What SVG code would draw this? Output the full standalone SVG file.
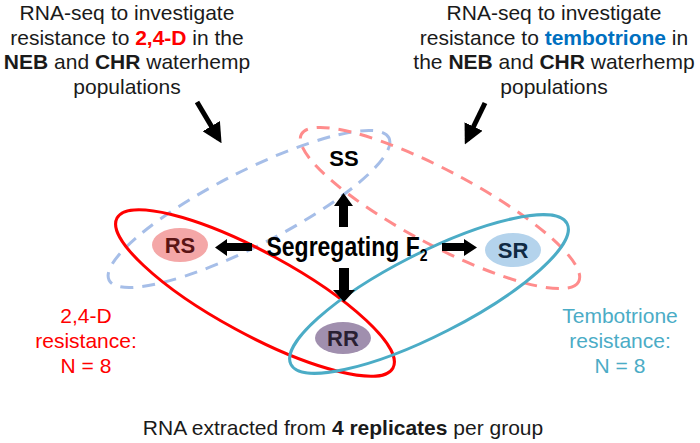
<svg xmlns="http://www.w3.org/2000/svg" width="700" height="443" viewBox="0 0 700 443">
<style>
text{font-family:"Liberation Sans",Arial,sans-serif;}
.t{font-size:21px;fill:#1a1a1a;text-anchor:middle;}
.b{font-weight:bold;}
.n{font-size:22px;font-weight:bold;text-anchor:middle;}
.dash{fill:none;stroke-width:3;stroke-dasharray:13 9;}
.solid{fill:none;stroke-width:3;}
</style>
<defs>
<marker id="ah" markerWidth="4" markerHeight="4" refX="3" refY="2" orient="auto" markerUnits="strokeWidth">
<path d="M0,0 L4,2 L0,4 Z" fill="#000"/>
</marker>
</defs>

<g id="groups">
<ellipse class="dash" cx="249" cy="209" rx="157" ry="37" stroke="#A6BEE8" transform="rotate(-27 249 209)"/>
<ellipse class="dash" cx="440" cy="208" rx="157" ry="37" stroke="#FF8C8C" transform="rotate(28 440 208)"/>
<ellipse class="solid" cx="255" cy="293" rx="157" ry="41" stroke="#FF0000" transform="rotate(28.5 255 293)"/>
<ellipse class="solid" cx="429" cy="294" rx="155" ry="41" stroke="#4BACC6" transform="rotate(-27 429 294)"/>
</g>

<g id="text-left">
<text class="t" x="127" y="20">RNA-seq to investigate</text>
<text class="t" x="127" y="44.5">resistance to <tspan class="b" fill="#FF0000">2,4-D</tspan> in the</text>
<text class="t" x="127" y="69"><tspan class="b">NEB</tspan> and <tspan class="b">CHR</tspan> waterhemp</text>
<text class="t" x="127" y="93.5">populations</text>
</g>

<g id="text-right">
<text class="t" x="554" y="20">RNA-seq to investigate</text>
<text class="t" x="554" y="44.5">resistance to <tspan class="b" fill="#0070C0">tembotrione</tspan> in</text>
<text class="t" x="554" y="69">the <tspan class="b">NEB</tspan> and <tspan class="b">CHR</tspan> waterhemp</text>
<text class="t" x="554" y="93.5">populations</text>
</g>

<g id="connectors">
<line x1="197" y1="102" x2="219" y2="139" stroke="#000" stroke-width="5" marker-end="url(#ah)"/>
<line x1="485" y1="103" x2="467" y2="140" stroke="#000" stroke-width="5" marker-end="url(#ah)"/>
<polygon points="252,243 227,243 227,239 215,247.5 227,256 227,251 252,251" fill="#000"/>
<polygon points="442,243 464,243 464,239 477,247.5 464,256 464,251 442,251" fill="#000"/>
<polygon points="339,227 339,206 334,206 343.5,193 353,206 348,206 348,227" fill="#000"/>
<polygon points="339,268 339,290 333,290 344,302 355,290 349,290 349,268" fill="#000"/>
</g>

<g id="node-SS">
<text class="n" x="344" y="166" fill="#000">SS</text>
</g>
<g id="node-RS">
<ellipse cx="180" cy="245" rx="28" ry="17" fill="#F4A7A7"/>
<text class="n" x="180" y="253" fill="#5A1414">RS</text>
</g>
<g id="node-SR">
<ellipse cx="513" cy="250" rx="28" ry="17" fill="#B4D3EC"/>
<text class="n" x="513" y="258" fill="#0F2A44">SR</text>
</g>
<g id="node-RR">
<ellipse cx="343" cy="338" rx="28" ry="16" fill="#A08FAE"/>
<text class="n" x="343" y="346" fill="#2A1F33">RR</text>
</g>
<g id="node-F2">
<text transform="translate(347 256) scale(1 1.18)" font-size="23" font-weight="bold" text-anchor="middle" fill="#000">Segregating F<tspan font-size="14" dy="4">2</tspan></text>
</g>

<g id="label-24D">
<text class="t" x="86" y="323" style="fill:#FF0000">2,4-D</text>
<text class="t" x="86" y="348" style="fill:#FF0000">resistance:</text>
<text class="t" x="86" y="373" style="fill:#FF0000">N = 8</text>
</g>
<g id="label-temb">
<text class="t" x="620" y="323" style="fill:#4BACC6">Tembotrione</text>
<text class="t" x="620" y="348" style="fill:#4BACC6">resistance:</text>
<text class="t" x="620" y="373" style="fill:#4BACC6">N = 8</text>
</g>

<g id="footer">
<text class="t" x="343" y="435">RNA extracted from <tspan class="b">4 replicates</tspan> per group</text>
</g>
</svg>
